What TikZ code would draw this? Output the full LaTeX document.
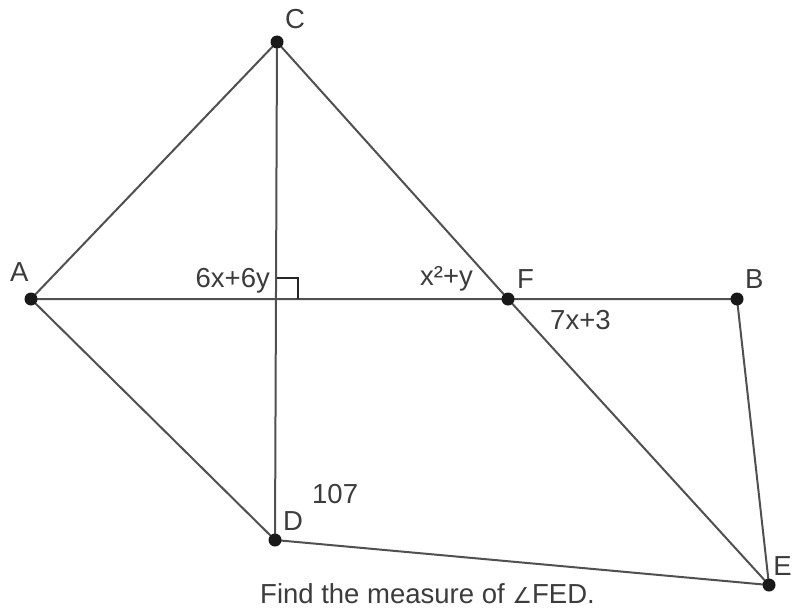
\documentclass[tikz,border=0pt]{standalone}
\usepackage{fontspec}
\setmainfont{Liberation Sans}
\newfontfamily\symfont{DejaVu Sans}
\definecolor{txt}{HTML}{3C3C3C}
\definecolor{ln}{HTML}{505050}
\begin{document}
\begin{tikzpicture}[x=1pt,y=-1pt,
  seg/.style={draw=ln,line width=2pt},
  pt/.style={circle,fill=black!90,inner sep=0pt,minimum size=13pt},
  lbl/.style={text=txt,inner sep=0pt,font=\fontsize{27.5}{32}\selectfont}]
\useasboundingbox[fill=white] (0,0) rectangle (794,610);
\coordinate (H) at (277,299);
\draw[seg] (31,299) -- (277,42) -- (508,299) -- (769,585) -- (275,540) -- cycle;
\draw[seg] (31,299) -- (737,299) -- (769,585);
\draw[seg] (277,42) -- (275,540);
\draw[draw=black!85,line width=2.5pt] (H) ++(0,-21) -- ++(21,0) -- ++(0,21);
\node[pt] (C) at (277,42) {};
\node[pt] (A) at (31,299) {};
\node[pt] (F) at (508,299) {};
\node[pt] (B) at (737,299) {};
\node[pt] (D) at (275,540) {};
\node[pt] (E) at (769,585) {};
\node[lbl,anchor=base west] (lC) at (285,29) {C};
\node[lbl,anchor=base west] (lA) at (10,281) {A};
\node[lbl,anchor=base west] (lF) at (517,288) {F};
\node[lbl,anchor=base west] (lB) at (745,288) {B};
\node[lbl,anchor=base west] (lD) at (283,530) {D};
\node[lbl,anchor=base east] (lE) at (792,575) {E};
\node[lbl,anchor=base east] (l1) at (270,287) {6x+6y};
\node[lbl,anchor=base west] (l2) at (420,285) {x²+y};
\node[lbl,anchor=base west] (l3) at (550,329) {7x+3};
\node[lbl,anchor=base west] (l4) at (312,503) {107};
\node[lbl,anchor=base west] (q) at (260,603) {Find the measure of {\symfont\fontsize{22}{26}\selectfont ∠}FED.};
\end{tikzpicture}
\end{document}
